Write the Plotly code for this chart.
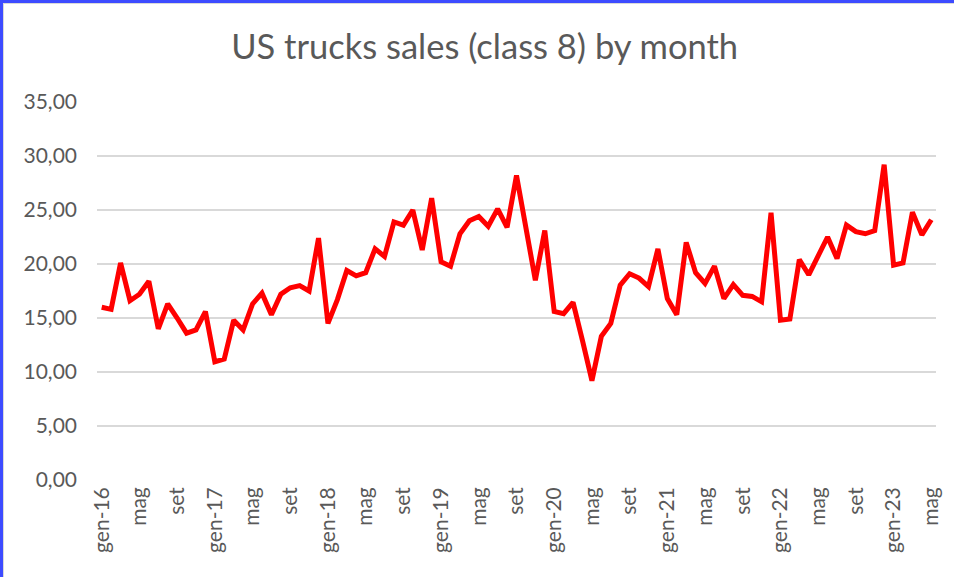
import plotly.graph_objects as go

# Monthly class 8 truck sales (thousand units), gen-16 .. mag-23
months_it = ["gen", "feb", "mar", "apr", "mag", "giu", "lug", "ago", "set", "ott", "nov", "dic"]
years = [16, 17, 18, 19, 20, 21, 22, 23]
categories = [f"{m}-{y}" for y in years for m in months_it][:89]

sales = [
    16.0, 15.8, 20.1, 16.6, 17.2, 18.4, 14.0, 16.3, 15.0, 13.6, 13.9, 15.6,
    10.95, 11.2, 14.8, 13.9, 16.3, 17.3, 15.3, 17.2, 17.8, 18.0, 17.5, 22.4,
    14.5, 16.7, 19.4, 18.9, 19.2, 21.4, 20.7, 23.9, 23.6, 25.0, 21.3, 26.1,
    20.2, 19.8, 22.8, 24.0, 24.4, 23.5, 25.1, 23.4, 28.2, 23.0, 18.5, 23.1,
    15.6, 15.4, 16.45, 12.9, 9.2, 13.3, 14.5, 18.05, 19.1, 18.7, 17.9, 21.4,
    16.8, 15.3, 22.0, 19.2, 18.2, 19.8, 16.8, 18.1, 17.1, 17.0, 16.5, 24.75,
    14.8, 14.9, 20.4, 19.0, 20.8, 22.5, 20.5, 23.6, 23.0, 22.8, 23.1, 29.2,
    19.9, 20.1, 24.8, 22.7, 24.1,
]

tick_idx = list(range(0, len(categories), 4))
tick_text = []
for i in tick_idx:
    m, y = categories[i].split("-")
    tick_text.append(categories[i] if m == "gen" else m)

y_ticks = [0, 5, 10, 15, 20, 25, 30, 35]

W, H = 954, 577
ml, mr, mt, mb = 97, 18, 102, 97

fig = go.Figure()
fig.add_trace(go.Scatter(
    x=list(range(len(sales))), y=sales, mode="lines",
    line=dict(color="#FF0000", width=5, shape="linear"),
    hoverinfo="skip", showlegend=False,
))

pw = W - ml - mr
ph = H - mt - mb
def px(x):
    return (x - ml) / pw
def py(y):
    return (H - mb - y) / ph

shapes = [
    dict(type="rect", xref="paper", yref="paper", x0=px(0), x1=px(W), y0=py(3), y1=py(0),
         fillcolor="#3D4BFF", line=dict(width=0), layer="above"),
    dict(type="rect", xref="paper", yref="paper", x0=px(3), x1=px(W), y0=py(4), y1=py(3),
         fillcolor="#D9D9D9", line=dict(width=0), layer="above"),
    dict(type="rect", xref="paper", yref="paper", x0=px(0), x1=px(3), y0=py(H), y1=py(0),
         fillcolor="#3D4BFF", line=dict(width=0), layer="above"),
    dict(type="rect", xref="paper", yref="paper", x0=px(3), x1=px(4), y0=py(H), y1=py(3),
         fillcolor="#D9D9D9", line=dict(width=0), layer="above"),
]

fig.update_layout(
    width=W, height=H,
    margin=dict(l=ml, r=mr, t=mt, b=mb),
    paper_bgcolor="white", plot_bgcolor="white",
    separators=",.",
    font=dict(family="Lato, Open Sans, sans-serif", color="#595959", size=21),
    title=dict(text="US trucks sales (class 8) by month", x=0.508, xanchor="center",
               y=1 - 47 / H, yanchor="middle",
               font=dict(family="Lato, Open Sans, sans-serif", size=34.5, color="#595959")),
    xaxis=dict(
        range=[-0.5, len(sales) - 0.5], tickmode="array", tickvals=tick_idx, ticktext=tick_text,
        tickangle=-90, showgrid=False, zeroline=False, showline=False, ticks="",
        ticklabelstandoff=2,
        tickfont=dict(size=21, color="#595959"), fixedrange=True,
    ),
    yaxis=dict(
        range=[0, 35], tickmode="array", tickvals=y_ticks, tickformat=".2f",
        showgrid=True, gridcolor="#D9D9D9", gridwidth=1.5, zeroline=False, showline=False,
        ticks="", ticklabelstandoff=19, tickfont=dict(size=21, color="#595959"), fixedrange=True,
    ),
    shapes=shapes,
)

fig.write_html("out.html")
